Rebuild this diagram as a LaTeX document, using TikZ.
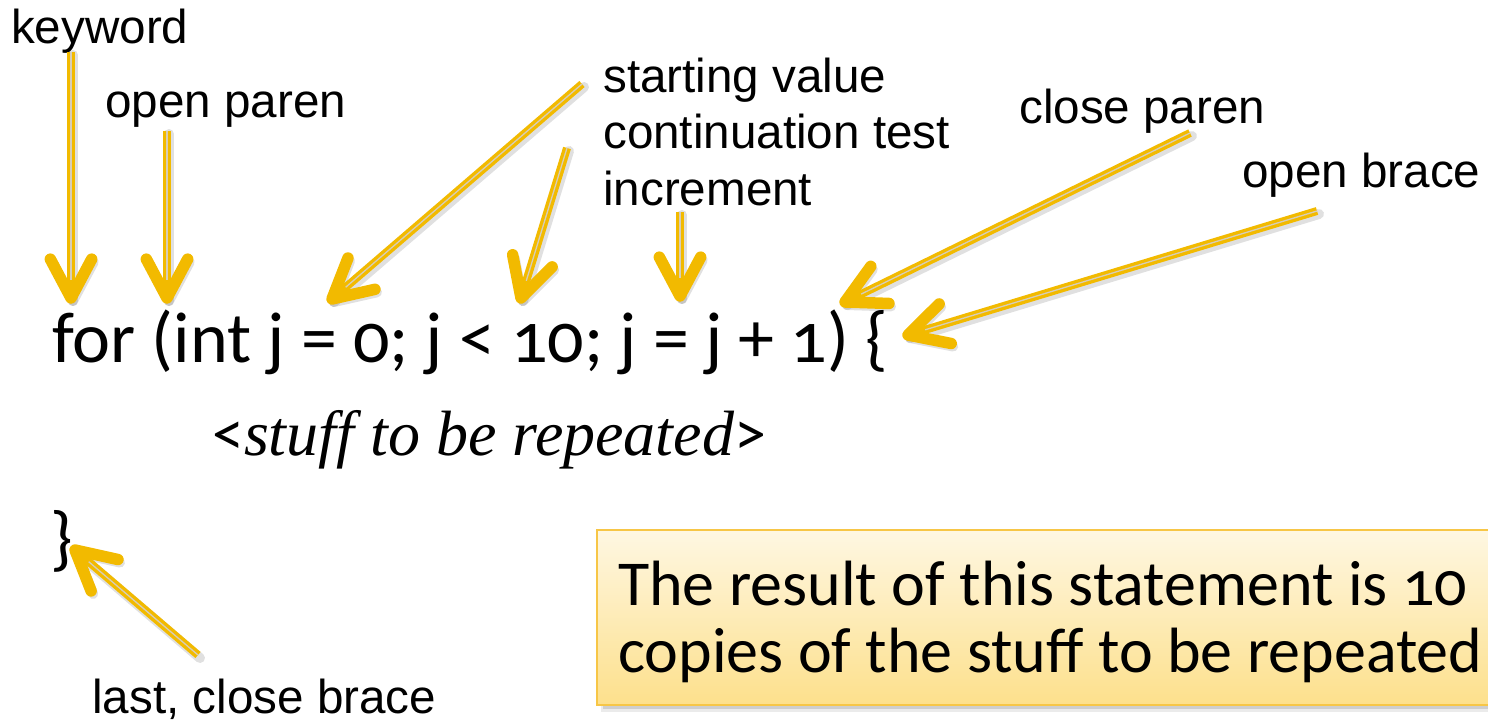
\documentclass[tikz,border=0pt]{standalone}
\usepackage{fontspec}
\setmainfont{Liberation Sans}
\newfontfamily\codefont[Numbers=OldStyle]{Carlito}
\newfontfamily\seriffont{Liberation Serif}
\usetikzlibrary{calc}

\definecolor{gold}{RGB}{242,186,0}
\definecolor{goldlight}{RGB}{215,205,185}
\definecolor{boxtop}{RGB}{254,247,226}
\definecolor{boxbottom}{RGB}{253,224,140}
\definecolor{boxedge}{RGB}{247,198,70}

\tikzset{
  label/.style={inner sep=0pt, anchor=base west, font=\fontsize{47.6}{57}\selectfont},
  code/.style={inner sep=0pt, anchor=base west, font=\codefont\fontsize{72}{80}\selectfont},
  shaft/.style={draw=gold, line width=8pt, line cap=butt},
  shaftlight/.style={draw=goldlight, line width=1.3pt},
  headline/.style={draw=gold, line width=11.5pt, line cap=round, line join=round},
  softshadow/.style={draw=black, opacity=0.12, line width=10pt, line cap=round, line join=round},
}

% gold annotation arrow from tail #1 to tip #2
\newcommand\goldarrow[2]{%
  \draw[softshadow] ($(#1)+(2,3)$) -- ($(#2)+(2,3)$);
  \draw[softshadow] ($($(#2)!44pt!28:(#1)$)+(2,3)$) -- ($(#2)+(2,3)$) -- ($($(#2)!44pt!-28:(#1)$)+(2,3)$);
  \draw[shaft] (#1) -- ($(#2)!8pt!(#1)$);
  \draw[shaftlight] (#1) -- ($(#2)!18pt!(#1)$);
  \draw[headline] ($(#2)!44pt!28:(#1)$) -- (#2) -- ($(#2)!44pt!-28:(#1)$);
}

\begin{document}
\begin{tikzpicture}[x=1pt, y=-1pt]
\useasboundingbox (0,0) rectangle (1488,721);

% labels
\node[label] (kw) at (11,43) {keyword};
\node[label] (op) at (105,117) {open paren};
\node[label] (sv) at (603,92) {starting value};
\node[label] (ct) at (603,148) {continuation test};
\node[label] (inc) at (603,205) {increment};
\node[label] (cp) at (1019,123) {close paren};
\node[label] (ob) at (1242,187) {open brace};
\node[label] (lb) at (92,713) {last, close brace};

% the statement
\node[code] (stmt) at (52,362) {for (int j = 0; j < 10; j = j + 1) \{};
\node[inner sep=0pt, anchor=base west] (body) at (212,455)
  {\codefont\fontsize{64}{72}\selectfont <\seriffont\itshape stuff to be repeated\/\codefont\upshape>};
\node[code] (close) at (50,562) {\}};

% result box
\fill[black, opacity=0.08] (601,535) rectangle (1500,712);
\fill[black, opacity=0.12] (603,537) rectangle (1500,709);
\shade[top color=boxtop, bottom color=boxbottom, draw=boxedge, line width=1.5pt]
  (597,530) rectangle (1500,705);
\node[inner sep=0pt, anchor=base west, font=\codefont\fontsize{64}{72}\selectfont] (r1) at (618,605)
  {The result of this statement is 10};
\node[inner sep=0pt, anchor=base west, font=\codefont\fontsize{64}{72}\selectfont] (r2) at (618,672)
  {copies of the stuff to be repeated};

% arrow ends
\coordinate (kwT) at (71,52);   \coordinate (kwH) at (71,298);
\coordinate (opT) at (167,131); \coordinate (opH) at (167,298);
\coordinate (svT) at (582,84);  \coordinate (svH) at (332,299);
\coordinate (ctT) at (567,148); \coordinate (ctH) at (521,298);
\coordinate (inT) at (680,212); \coordinate (inH) at (680,296);
\coordinate (cpT) at (1190,133);\coordinate (cpH) at (845,302);
\coordinate (obT) at (1317,211);\coordinate (obH) at (908,335);
\coordinate (lbT) at (198,655); \coordinate (lbH) at (75,550);

\goldarrow{kwT}{kwH}
\goldarrow{opT}{opH}
\goldarrow{svT}{svH}
\goldarrow{ctT}{ctH}
\goldarrow{inT}{inH}
\goldarrow{cpT}{cpH}
\goldarrow{obT}{obH}
\goldarrow{lbT}{lbH}
\end{tikzpicture}
\end{document}
